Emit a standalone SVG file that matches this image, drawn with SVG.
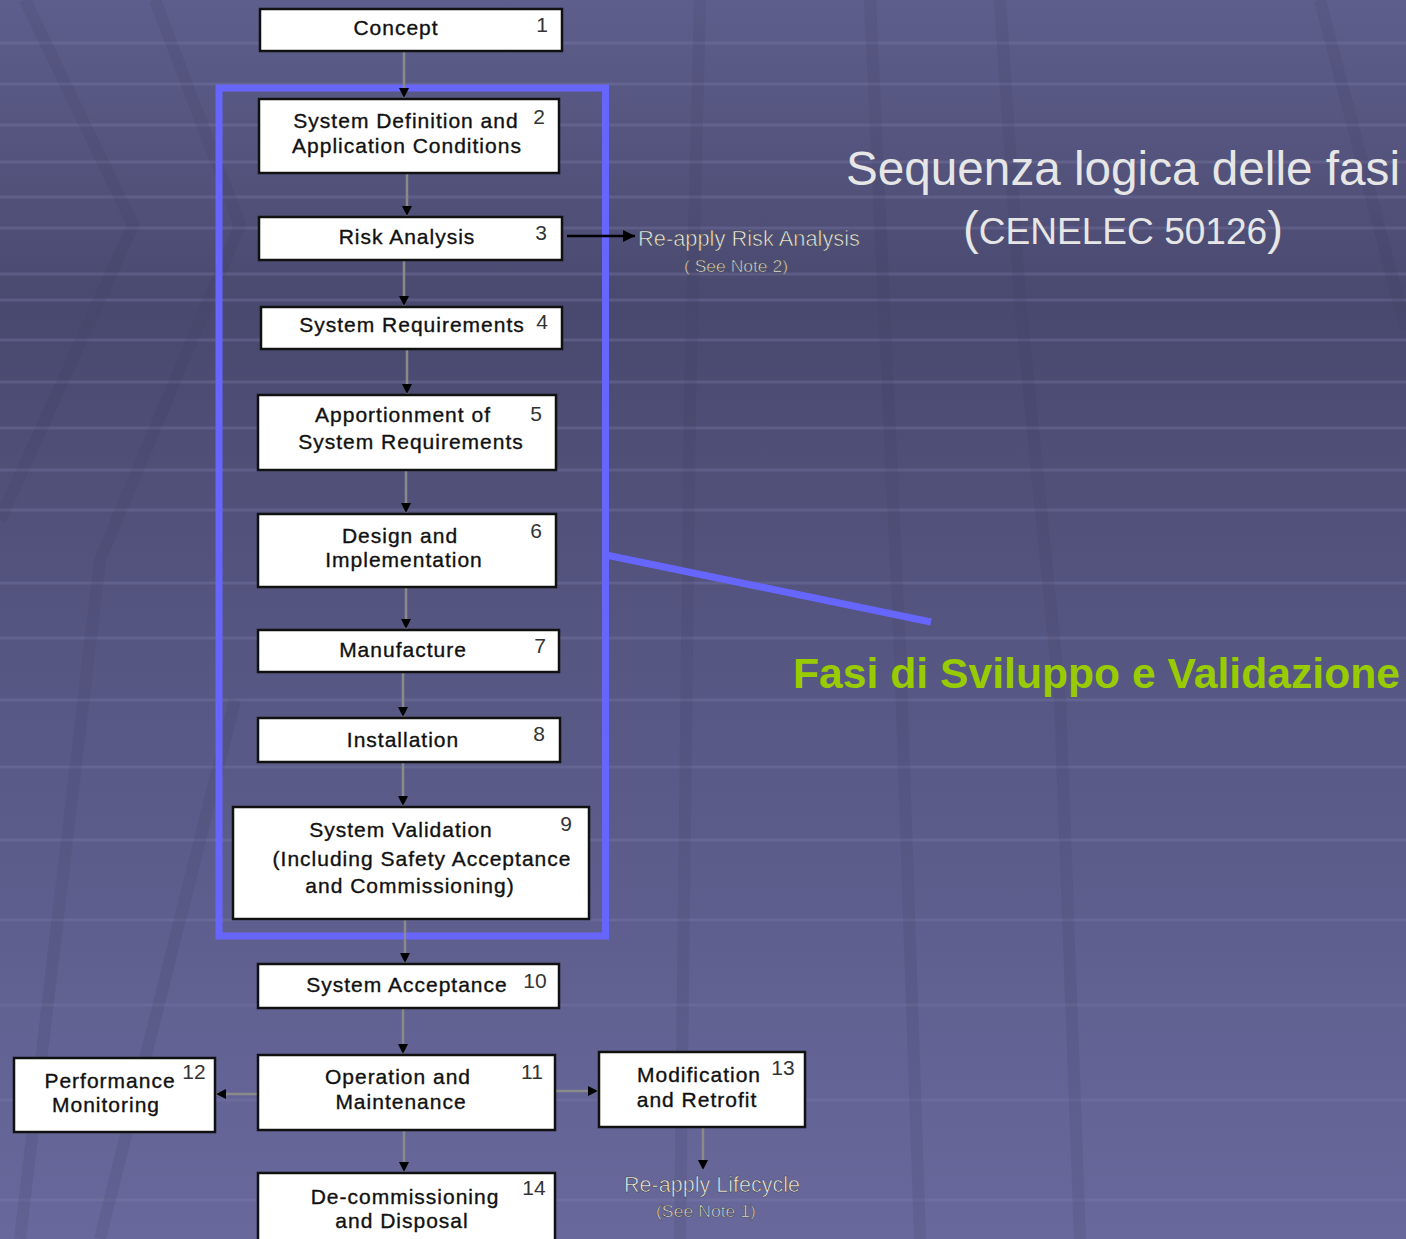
<svg xmlns="http://www.w3.org/2000/svg" width="1406" height="1239" viewBox="0 0 1406 1239">
<defs>
<linearGradient id="bg" x1="0" y1="0" x2="0" y2="1">
<stop offset="0" stop-color="#5e5e8c"/>
<stop offset="0.25" stop-color="#49496f"/>
<stop offset="0.55" stop-color="#575784"/>
<stop offset="1" stop-color="#68689c"/>
</linearGradient>
<marker id="ah" viewBox="0 0 10 10" refX="10" refY="5" markerWidth="10" markerHeight="10" markerUnits="userSpaceOnUse" orient="auto">
<path d="M0,0 L10,5 L0,10 z" fill="#000"/>
</marker>
<marker id="ahs" viewBox="0 0 10 10" refX="10" refY="5" markerWidth="12" markerHeight="12" markerUnits="userSpaceOnUse" orient="auto">
<path d="M0,0 L10,5 L0,10 z" fill="#000"/>
</marker>
</defs>
<style>
.box{fill:#fff;stroke:#111;stroke-width:2.5}
.t{font-family:"Liberation Sans",Arial,sans-serif;font-size:21px;fill:#111;stroke:#111;stroke-width:0.35;text-anchor:middle;letter-spacing:1px}
.n{font-family:"Liberation Sans",Arial,sans-serif;font-size:21px;fill:#333;text-anchor:middle}
.c{stroke:#8a8a8a;stroke-width:2.5;fill:none;marker-end:url(#ah)}
.note{font-family:"Liberation Sans",Arial,sans-serif;fill:#eeeeee;stroke:#444;stroke-width:0.6;text-anchor:middle}
.stripe{stroke:#7a7aa8;stroke-opacity:0.35;stroke-width:3}
.diag{stroke:#3e3e60;stroke-opacity:0.15;stroke-width:12;fill:none}
</style>
<rect x="0" y="0" width="1406" height="1239" fill="url(#bg)"/>
<g id="background-grid">
<line class="stripe" x1="0" y1="43" x2="1406" y2="43"/>
<line class="stripe" x1="0" y1="84" x2="1406" y2="84"/>
<line class="stripe" x1="0" y1="125" x2="1406" y2="125"/>
<line class="stripe" x1="0" y1="162" x2="1406" y2="162"/>
<line class="stripe" x1="0" y1="197" x2="1406" y2="197"/>
<line class="stripe" x1="0" y1="228" x2="1406" y2="228"/>
<line class="stripe" x1="0" y1="274" x2="1406" y2="274"/>
<line class="stripe" x1="0" y1="300" x2="1406" y2="300"/>
<line class="stripe" x1="0" y1="340" x2="1406" y2="340"/>
<line class="stripe" x1="0" y1="382" x2="1406" y2="382"/>
<line class="stripe" x1="0" y1="428" x2="1406" y2="428"/>
<line class="stripe" x1="0" y1="470" x2="1406" y2="470"/>
<line class="stripe" x1="0" y1="510" x2="1406" y2="510"/>
<line class="stripe" x1="0" y1="583" x2="1406" y2="583"/>
<line class="stripe" x1="0" y1="638" x2="1406" y2="638"/>
<line class="stripe" x1="0" y1="700" x2="1406" y2="700"/>
<line class="stripe" x1="0" y1="767" x2="1406" y2="767"/>
<line class="stripe" x1="0" y1="840" x2="1406" y2="840"/>
<line class="stripe" x1="0" y1="920" x2="1406" y2="920"/>
<line class="stripe" x1="0" y1="1005" x2="1406" y2="1005"/>
<line class="stripe" x1="0" y1="1100" x2="1406" y2="1100"/>
<line class="stripe" x1="0" y1="1200" x2="1406" y2="1200"/>
<path class="diag" d="M25,0 L133,225 L0,520"/>
<path class="diag" d="M155,0 L240,225 L100,560 L20,1239"/>
<path class="diag" d="M235,700 L100,1239"/>
<path class="diag" d="M1000,0 L1020,300 L1060,700 L1080,1239"/>
<path class="diag" d="M1320,0 L1406,330"/>
<path class="diag" d="M700,0 L690,400 L680,1239"/>
<path class="diag" d="M870,0 L900,650 L920,1239"/>
</g>
<g id="validation-frame">
<rect x="219" y="88" width="386.5" height="848" fill="none" stroke="#6666ff" stroke-width="7"/>
<line x1="606" y1="555" x2="931" y2="622" stroke="#6666ff" stroke-width="7"/>
</g>
<g id="connectors">
<line class="c" x1="404" y1="52" x2="404" y2="98"/>
<line class="c" x1="407" y1="174" x2="407" y2="216"/>
<line class="c" x1="404" y1="261" x2="404" y2="306"/>
<line class="c" x1="407" y1="350" x2="407" y2="394"/>
<line class="c" x1="406" y1="471" x2="406" y2="513"/>
<line class="c" x1="406" y1="588" x2="406" y2="629"/>
<line class="c" x1="403" y1="673" x2="403" y2="717"/>
<line class="c" x1="403" y1="763" x2="403" y2="806"/>
<line class="c" x1="405" y1="920" x2="405" y2="963"/>
<line class="c" x1="403" y1="1009" x2="403" y2="1054"/>
<line class="c" x1="404" y1="1131" x2="404" y2="1172"/>
<line class="c" x1="257" y1="1094" x2="216" y2="1094"/>
<line class="c" x1="556" y1="1091" x2="598" y2="1091"/>
<line class="c" x1="703" y1="1128" x2="703" y2="1170"/>
<line x1="567" y1="236" x2="635" y2="236" stroke="#000" stroke-width="2.5" marker-end="url(#ahs)"/>
</g>
<g id="n1"><rect class="box" x="260" y="9" width="302" height="42"/><text class="t" x="396" y="35">Concept</text><text class="n" x="542" y="32">1</text></g>
<g id="n2"><rect class="box" x="259" y="99" width="300" height="74"/><text class="t" x="406" y="128">System Definition and</text><text class="t" x="407" y="153">Application Conditions</text><text class="n" x="539" y="124">2</text></g>
<g id="n3"><rect class="box" x="259" y="217" width="303" height="43"/><text class="t" x="407" y="244">Risk Analysis</text><text class="n" x="541" y="240">3</text></g>
<g id="n4"><rect class="box" x="261" y="307" width="301" height="42"/><text class="t" x="412" y="332">System Requirements</text><text class="n" x="542" y="329">4</text></g>
<g id="n5"><rect class="box" x="258" y="395" width="298" height="75"/><text class="t" x="403" y="422">Apportionment of</text><text class="t" x="411" y="449">System Requirements</text><text class="n" x="536" y="421">5</text></g>
<g id="n6"><rect class="box" x="258" y="514" width="298" height="73"/><text class="t" x="400" y="543">Design and</text><text class="t" x="404" y="567">Implementation</text><text class="n" x="536" y="538">6</text></g>
<g id="n7"><rect class="box" x="258" y="630" width="301" height="42"/><text class="t" x="403" y="657">Manufacture</text><text class="n" x="540" y="653">7</text></g>
<g id="n8"><rect class="box" x="258" y="718" width="302" height="44"/><text class="t" x="403" y="747">Installation</text><text class="n" x="539" y="741">8</text></g>
<g id="n9"><rect class="box" x="233" y="807" width="356" height="112"/><text class="t" x="401" y="837">System Validation</text><text class="t" x="422" y="866">(Including Safety Acceptance</text><text class="t" x="410" y="893">and Commissioning)</text><text class="n" x="566" y="831">9</text></g>
<g id="n10"><rect class="box" x="258" y="964" width="301" height="44"/><text class="t" x="407" y="992">System Acceptance</text><text class="n" x="535" y="988">10</text></g>
<g id="n11"><rect class="box" x="258" y="1055" width="297" height="75"/><text class="t" x="398" y="1084">Operation and</text><text class="t" x="401" y="1109">Maintenance</text><text class="n" x="532" y="1079">11</text></g>
<g id="n12"><rect class="box" x="14" y="1058" width="201" height="74"/><text class="t" x="110" y="1088">Performance</text><text class="t" x="106" y="1112">Monitoring</text><text class="n" x="194" y="1079">12</text></g>
<g id="n13"><rect class="box" x="599" y="1052" width="206" height="75"/><text class="t" x="699" y="1082">Modification</text><text class="t" x="697" y="1107">and Retrofit</text><text class="n" x="783" y="1075">13</text></g>
<g id="n14"><rect class="box" x="258" y="1173" width="297" height="80"/><text class="t" x="405" y="1204">De-commissioning</text><text class="t" x="402" y="1228">and Disposal</text><text class="n" x="534" y="1195">14</text></g>
<g id="notes">
<text class="note" x="749" y="246" font-size="22" textLength="222" lengthAdjust="spacingAndGlyphs">Re-apply Risk Analysis</text>
<text class="note" x="736" y="272" font-size="17" textLength="104" lengthAdjust="spacingAndGlyphs">( See Note 2)</text>
<text class="note" x="712" y="1192" font-size="22" textLength="176" lengthAdjust="spacingAndGlyphs">Re-apply Lifecycle</text>
<text class="note" x="706" y="1217" font-size="17" textLength="100" lengthAdjust="spacingAndGlyphs">(See Note 1)</text>
</g>
<g id="titles">
<text x="846" y="185" font-family="'Liberation Sans',Arial,sans-serif" font-size="48" fill="#e6e6e6" textLength="554" lengthAdjust="spacingAndGlyphs">Sequenza logica delle fasi</text>
<text x="963" y="244" font-family="'Liberation Sans',Arial,sans-serif" font-size="36" fill="#e6e6e6" textLength="320" lengthAdjust="spacingAndGlyphs"><tspan font-size="46">(</tspan>CENELEC 50126<tspan font-size="46">)</tspan></text>
<text x="793" y="688" font-family="'Liberation Sans',Arial,sans-serif" font-size="42" font-weight="bold" fill="#99cc00" textLength="607" lengthAdjust="spacingAndGlyphs">Fasi di Sviluppo e Validazione</text>
</g>
</svg>
